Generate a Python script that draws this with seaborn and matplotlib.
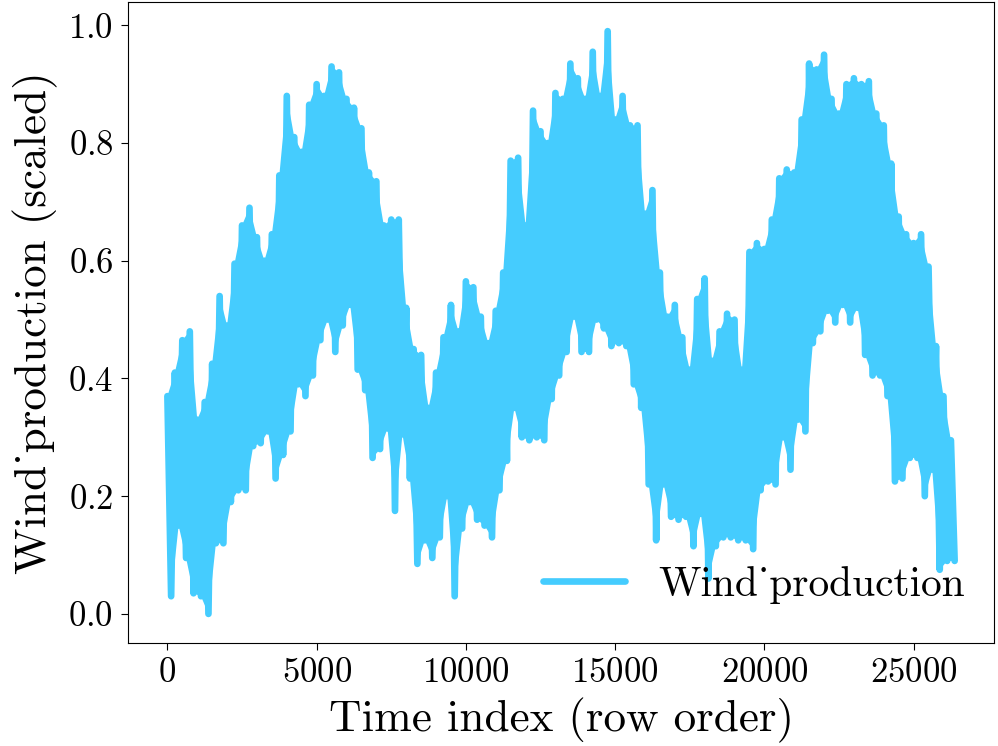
import matplotlib
matplotlib.use("Agg")
import pandas as pd
import seaborn as sns
import matplotlib.pyplot as plt

# peaks and troughs of the wind series, read every 250 rows
upper = [0.37, 0.41, 0.465, 0.48, 0.33, 0.36, 0.425, 0.54, 0.49, 0.595,
         0.66, 0.69, 0.64, 0.60, 0.645, 0.745, 0.88, 0.81, 0.785, 0.865,
         0.90, 0.88, 0.93, 0.92, 0.875, 0.86, 0.825, 0.75, 0.735, 0.66,
         0.67, 0.67, 0.52, 0.45, 0.44, 0.35, 0.41, 0.47, 0.525, 0.48,
         0.565, 0.555, 0.505, 0.46, 0.515, 0.58, 0.77, 0.775, 0.66, 0.855,
         0.82, 0.80, 0.885, 0.875, 0.935, 0.91, 0.875, 0.955, 0.88, 0.99,
         0.84, 0.88, 0.83, 0.83, 0.68, 0.72, 0.58, 0.505, 0.525, 0.47,
         0.415, 0.535, 0.57, 0.43, 0.48, 0.51, 0.50, 0.415, 0.615, 0.63,
         0.62, 0.67, 0.74, 0.755, 0.75, 0.84, 0.935, 0.925, 0.95, 0.875,
         0.85, 0.90, 0.91, 0.90, 0.905, 0.85, 0.83, 0.765, 0.675, 0.645,
         0.63, 0.645, 0.59, 0.455, 0.37, 0.295]
lower = [0.03, 0.15, 0.095, 0.035, 0.03, 0.0, 0.12, 0.12, 0.19, 0.21,
         0.21, 0.285, 0.29, 0.31, 0.23, 0.27, 0.31, 0.39, 0.37, 0.405,
         0.465, 0.50, 0.445, 0.49, 0.525, 0.415, 0.38, 0.265, 0.28, 0.315,
         0.175, 0.305, 0.23, 0.085, 0.125, 0.095, 0.13, 0.20, 0.03, 0.145,
         0.19, 0.16, 0.15, 0.13, 0.21, 0.26, 0.35, 0.30, 0.295, 0.30,
         0.295, 0.365, 0.405, 0.445, 0.505, 0.445, 0.445, 0.50, 0.485, 0.455,
         0.46, 0.455, 0.39, 0.35, 0.22, 0.125, 0.22, 0.165, 0.16, 0.165,
         0.115, 0.17, 0.06, 0.115, 0.13, 0.13, 0.125, 0.125, 0.11, 0.21,
         0.225, 0.22, 0.30, 0.245, 0.33, 0.31, 0.46, 0.48, 0.515, 0.495,
         0.525, 0.495, 0.52, 0.44, 0.405, 0.405, 0.37, 0.225, 0.23, 0.265,
         0.265, 0.20, 0.245, 0.075, 0.09, 0.09]
step = 250

hi_rows = [k * step for k in range(len(upper))]
lo_rows = [k * step + step // 2 for k in range(len(lower))]

rows = []
values = []
for r_hi, hi, r_lo, lo in zip(hi_rows, upper, lo_rows, lower):
    rows += [r_hi, r_lo]
    values += [hi, lo]

df = pd.DataFrame({"row": rows, "Wind_production": values})

sns.set_style("ticks")
plt.rcParams["font.family"] = ["cmr10", "DejaVu Serif"]
plt.rcParams["mathtext.fontset"] = "cm"
plt.rcParams["axes.formatter.use_mathtext"] = True
plt.rcParams["axes.edgecolor"] = "black"
plt.rcParams["xtick.color"] = "black"
plt.rcParams["ytick.color"] = "black"
plt.rcParams["text.color"] = "black"
plt.rcParams["axes.labelcolor"] = "black"

color = "#45CCFE"
fig = plt.figure(figsize=(9.98, 7.46), dpi=100)
ax = fig.add_axes([0.1283, 0.138, 0.8677, 0.8593])

# the hourly series is so dense that the space between its peaks and troughs is solid
ax.fill(hi_rows + lo_rows[::-1], upper + lower[::-1], color=color, lw=0, zorder=1)
sns.lineplot(data=df, x="row", y="Wind_production", ax=ax, color=color,
             linewidth=4.8, label="Wind_production", zorder=2)

ax.set_xlabel("Time index (row order)", fontsize=32.5, labelpad=6)
ax.set_ylabel("Wind_production (scaled)", fontsize=32.5, labelpad=7.5)
ax.set_xticks([0, 5000, 10000, 15000, 20000, 25000])
ax.set_yticks([0.0, 0.2, 0.4, 0.6, 0.8, 1.0])
ax.tick_params(labelsize=25, length=5, width=0.8, pad=5.5)
ax.legend(loc="lower right", bbox_to_anchor=(1, 0.016), frameon=False,
          fontsize=29.8, borderaxespad=0.3)

fig.savefig("out.png", dpi=100)
